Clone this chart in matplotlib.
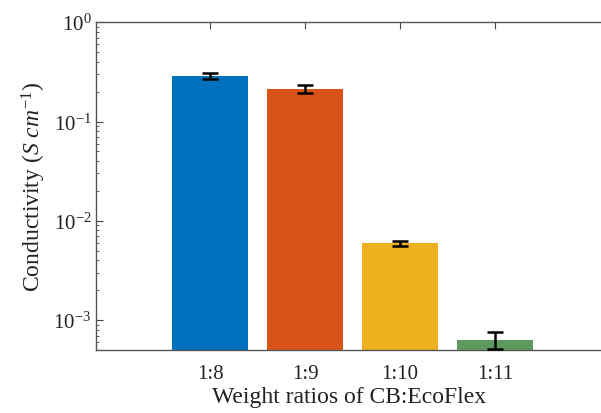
import matplotlib
matplotlib.use('Agg')
import matplotlib.pyplot as plt
import numpy as np

ratios = ['1:8', '1:9', '1:10', '1:11']
conductivity = [0.286, 0.214, 0.00593, 0.000635]
errors = [0.019, 0.019, 0.0004, 0.000125]
colors = ['#0072BD', '#D95319', '#EDB120', '#5E9A5E']

plt.rcParams['font.family'] = ['Liberation Serif', 'DejaVu Serif']
plt.rcParams['mathtext.fontset'] = 'custom'
plt.rcParams['mathtext.rm'] = 'Liberation Serif'
plt.rcParams['mathtext.it'] = 'Liberation Serif:italic'

fig = plt.figure(figsize=(6.01, 4.14), dpi=100)
ax = fig.add_axes([0.16, 0.152, 0.84, 0.792])

pos = np.arange(1, len(ratios) + 1)
ax.bar(pos, conductivity, width=0.8, color=colors, zorder=2)
ax.errorbar(pos, conductivity, yerr=errors, fmt='none', ecolor='black',
            elinewidth=1.8, capsize=5.5, capthick=1.8, zorder=3)

ax.set_yscale('log')
ax.set_ylim(5e-4, 1)
ax.set_xlim(-0.2, 5.116)
ax.set_xticks(pos)
ax.set_xticklabels(ratios)

ax.tick_params(which='both', direction='in', top=True, right=False,
               colors='#444444', labelcolor='#222222', labelsize=15)
ax.tick_params(which='major', length=5)
ax.tick_params(which='minor', length=2.5)
ax.tick_params(axis='x', which='major', pad=10)
ax.tick_params(axis='x', which='minor', top=False, bottom=False)
for s in ['left', 'bottom', 'top']:
    ax.spines[s].set_color('#555555')
    ax.spines[s].set_linewidth(1.0)
ax.spines['right'].set_visible(False)

ax.set_ylabel(r'Conductivity ($\mathit{S\ cm^{-1}}$)', fontsize=17, color='#222222', labelpad=4)
ax.set_xlabel('Weight ratios of CB:EcoFlex', fontsize=17, color='#222222', labelpad=2)

fig.savefig('out.png', dpi=100)
